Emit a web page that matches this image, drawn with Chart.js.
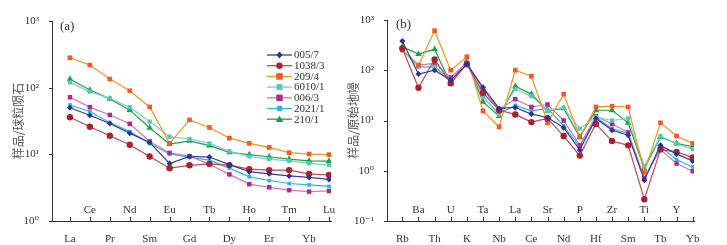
<!DOCTYPE html>
<html><head><meta charset="utf-8">
<script src="https://cdn.jsdelivr.net/npm/chart.js@4"></script>
<style>
html,body{margin:0;padding:0;background:#fff;}
#wrap{position:relative;width:727px;height:245px;overflow:hidden;}
.pane{position:absolute;top:0;height:245px;}
</style></head>
<body><div id="wrap">
<div class="pane" style="left:0;width:335px"><canvas id="ca"></canvas></div>
<div class="pane" style="left:335px;width:392px"><canvas id="cb"></canvas></div>
</div>
<script>
// ---------- data ----------
const seriesNames = ['005/7','1038/3','209/4','6010/1','006/3','2021/1','210/1'];
const reeElements = ['La','Ce','Pr','Nd','Sm','Eu','Gd','Tb','Dy','Ho','Er','Tm','Yb','Lu'];
const spiderElements = ['Rb','Ba','Th','U','K','Ta','Nb','La','Ce','Sr','Nd','P','Hf','Zr','Sm','Ti','Tb','Y','Yb'];

const ree_005_7  = [50, 38.6, 29, 20.8, 15.1, 7.3, 9.3, 9.1, 7.0, 5.5, 5.1, 4.75, 4.5, 4.2];
const ree_1038_3 = [36, 25.9, 19, 13.9, 9.3, 6.2, 6.85, 7.2, 6.9, 6.0, 5.8, 5.8, 5.1, 4.9];
const ree_209_4  = [281, 218, 135, 90, 51.4, 14.6, 32.9, 25.3, 17.5, 14.6, 12.7, 10.6, 10.1, 9.9];
const ree_6010_1 = [120, 87, 69.5, 51, 31, 18.4, 17, 14.6, 11.1, 9.3, 8.5, 8.0, 7.3, 6.9];
const ree_006_3  = [71.8, 51, 39, 28.7, 15.6, 10.5, 9.4, 7.1, 5.0, 3.57, 3.2, 2.9, 2.76, 2.82];
const ree_2021_1 = [55, 44, 30, 22, 14.6, 10.1, 9.0, 8.2, 6.2, 4.6, 4.05, 3.65, 3.48, 3.3];
const ree_210_1  = [135, 92, 68, 46, 25, 14.2, 15.9, 13.5, 10.7, 9.9, 9.2, 8.5, 8.0, 7.9];

const sp_005_7  = [381, 84, 100, 63, 132, 45.7, 17.4, 18.2, 13.4, 11.5, 7.2, 2.6, 11, 6.4, 5.1, 0.65, 3.2, 2.14, 1.57];
const sp_1038_3 = [272, 45, 164, 55, 132, 35.5, 16, 13.2, 9.3, 11, 4.9, 2.0, 8.5, 3.9, 3.2, 0.27, 2.64, 2.37, 1.83];
const sp_209_4  = [260, 126, 612, 100, 186, 15.5, 7.5, 100, 76, 9.0, 33.5, 4.7, 18.6, 19.3, 18.6, 0.93, 9.0, 4.9, 3.5];
const sp_6010_1 = [252, 117, 117, 59, 141, 29.5, 13.2, 42, 30.5, 16, 18, 6.9, 11.8, 10, 11, 1.23, 4.9, 3.4, 2.7];
const sp_006_3  = [252, 126, 137, 72, 141, 41.5, 16.6, 26.6, 18.6, 20.8, 10, 3.2, 12.2, 8.5, 5.8, 0.72, 2.64, 1.39, 0.98];
const sp_2021_1 = [252, 117, 117, 63, 141, 29.5, 13.8, 20, 15.5, 17.4, 7.8, 3.0, 11.5, 6.9, 5.5, 0.7, 3.0, 1.67, 1.19];
const sp_210_1  = [294, 210, 261, 53, 155, 23.5, 12.2, 48, 33.5, 15.5, 17.4, 4.7, 16, 16, 9.0, 1.1, 4.7, 3.5, 3.0];

const reeSeries = [ree_005_7, ree_1038_3, ree_209_4, ree_6010_1, ree_006_3, ree_2021_1, ree_210_1];
const spSeries  = [sp_005_7, sp_1038_3, sp_209_4, sp_6010_1, sp_006_3, sp_2021_1, sp_210_1];

const reeTicks = [1, 10, 100, 1000];
const spTicks  = [0.1, 1, 10, 100, 1000];
const tickText = {0.1:'10\u207B\u00B9', 1:'10\u2070', 10:'10\u00B9', 100:'10\u00B2', 1000:'10\u00B3'};

// ---------- styles ----------
const styles = [
  {line:'#3b3c98', pt:'#2e3192', shape:'rectRot', r:3},
  {line:'#c2474f', pt:'#a8222f', shape:'circle', r:3.2},
  {line:'#f7941d', pt:'#f15a29', shape:'rect', r:3.3},
  {line:'#79d0c8', pt:'#5bc4bd', shape:'rect', r:3},
  {line:'#d674b4', pt:'#b1288f', shape:'rect', r:3.2},
  {line:'#29b6e8', pt:'#29b6e8', shape:'rect', r:2.6},
  {line:'#1ba34a', pt:'#1ba34a', shape:'triangle', r:3.8}
];
const SERIF = '"Liberation Serif","DejaVu Serif",serif';
const CJK = '"Noto Sans CJK SC","Noto Sans CJK JP",sans-serif';

function drawMarker(ctx, shape, x, y, r, color){
  ctx.save(); ctx.fillStyle = color; ctx.beginPath();
  if(shape==='circle'){ ctx.arc(x,y,r,0,Math.PI*2); }
  else if(shape==='rect'){ ctx.rect(x-r,y-r,2*r,2*r); }
  else if(shape==='rectRot'){ ctx.moveTo(x,y-r*1.2); ctx.lineTo(x+r,y); ctx.lineTo(x,y+r*1.2); ctx.lineTo(x-r,y); ctx.closePath(); }
  else if(shape==='triangle'){ ctx.moveTo(x,y-r); ctx.lineTo(x+r,y+r*0.75); ctx.lineTo(x-r,y+r*0.75); ctx.closePath(); }
  ctx.fill(); ctx.restore();
}

function makeDatasets(series){
  return series.map((vals,k)=>({
    label: seriesNames[k],
    data: vals.map((v,i)=>({x:i,y:v})),
    borderColor: styles[k].line,
    backgroundColor: styles[k].pt,
    pointBackgroundColor: styles[k].pt,
    pointBorderColor: styles[k].pt,
    pointBorderWidth: 0,
    pointStyle: styles[k].shape,
    pointRadius: styles[k].r,
    borderWidth: 1.2,
    tension: 0
  }));
}

const decor = {
  id:'decor',
  afterDraw(chart, args, opts){
    const ctx = chart.ctx, xs = chart.scales.x, ys = chart.scales.y;
    const ca = chart.chartArea;
    ctx.save();
    ctx.strokeStyle = '#333'; ctx.lineWidth = 1;
    // inward x ticks
    xs.ticks.forEach(t=>{
      const px = Math.round(xs.getPixelForValue(t.value))+0.5;
      ctx.beginPath(); ctx.moveTo(px, ca.bottom); ctx.lineTo(px, ca.bottom-4); ctx.stroke();
    });
    // y ticks
    ys.ticks.forEach(t=>{
      const py = Math.round(ys.getPixelForValue(t.value))+0.5;
      ctx.beginPath(); ctx.moveTo(ca.left-3, py); ctx.lineTo(ca.left, py); ctx.stroke();
    });
    // odd element labels above axis
    ctx.fillStyle = '#333'; ctx.font = '11px '+SERIF; ctx.textAlign='center'; ctx.textBaseline='middle';
    opts.cats.forEach((c,i)=>{ if(i%2===1) ctx.fillText(c, xs.getPixelForValue(i), ca.bottom-11); });
    // panel tag
    ctx.font = '13px '+SERIF; ctx.textAlign='left';
    ctx.fillText(opts.tag, ca.left+opts.tagDx, ca.top+opts.tagDy);
    // legend
    if(opts.legend){
      ctx.font = '11px '+SERIF; ctx.textAlign='left'; ctx.textBaseline='middle';
      seriesNames.forEach((n,k)=>{
        const y = 55 + k*10.7;
        ctx.strokeStyle = styles[k].line; ctx.lineWidth = 1.3;
        ctx.beginPath(); ctx.moveTo(267, y); ctx.lineTo(292, y); ctx.stroke();
        drawMarker(ctx, styles[k].shape, 279.5, y, styles[k].r, styles[k].pt);
        ctx.fillStyle = '#333';
        ctx.fillText(n, 294, y+0.5);
      });
    }
    ctx.restore();
  }
};

function makeChart(id, cats, series, yticks, ymin, ymax, xmin, xmax, title, pad, tag, legend){
  return new Chart(document.getElementById(id), {
    type:'line',
    data:{ datasets: makeDatasets(series) },
    plugins:[decor],
    options:{
      responsive:true, maintainAspectRatio:false, animation:false,
      layout:{ padding: pad },
      plugins:{ legend:{display:false}, tooltip:{enabled:false},
        decor:{ cats: cats, tag: tag.t, tagDx: tag.dx, tagDy: tag.dy, legend: legend } },
      scales:{
        x:{ type:'linear', min:xmin, max:xmax,
          afterBuildTicks: s => { s.ticks = cats.map((c,i)=>({value:i})); },
          afterFit: s => { s.height = 24; },
          grid:{display:false}, border:{display:true, color:'#333', width:1},
          ticks:{ autoSkip:false, maxRotation:0, padding:4, color:'#333',
            font:{family:SERIF, size:11},
            callback: (v) => (v%2===0 ? cats[v] : '') } },
        y:{ type:'logarithmic', min:ymin, max:ymax,
          afterBuildTicks: s => { s.ticks = yticks.map(v=>({value:v})); },
          afterFit: s => { s.width = 52; },
          grid:{display:false}, border:{display:true, color:'#333', width:1},
          title:{ display:true, text:title, color:'#555', font:{family:CJK, size:12}, padding:{top:11, bottom:0} },
          ticks:{ padding:5, color:'#333', font:{family:SERIF, size:11},
            callback: (v) => tickText[v] || '' } }
      }
    }
  });
}

makeChart('ca', reeElements, reeSeries, reeTicks, 1, 1000, -0.9, 13.1,
  '样品/球粒陨石', {top:21, right:2, left:0, bottom:0}, {t:'(a)', dx:8, dy:6}, true);
makeChart('cb', spiderElements, spSeries, spTicks, 0.1, 1000, -0.95, 18.08,
  '样品/原始地幔', {top:20, right:33, left:0, bottom:0}, {t:'(b)', dx:9, dy:5}, false);
</script>
</body></html>
